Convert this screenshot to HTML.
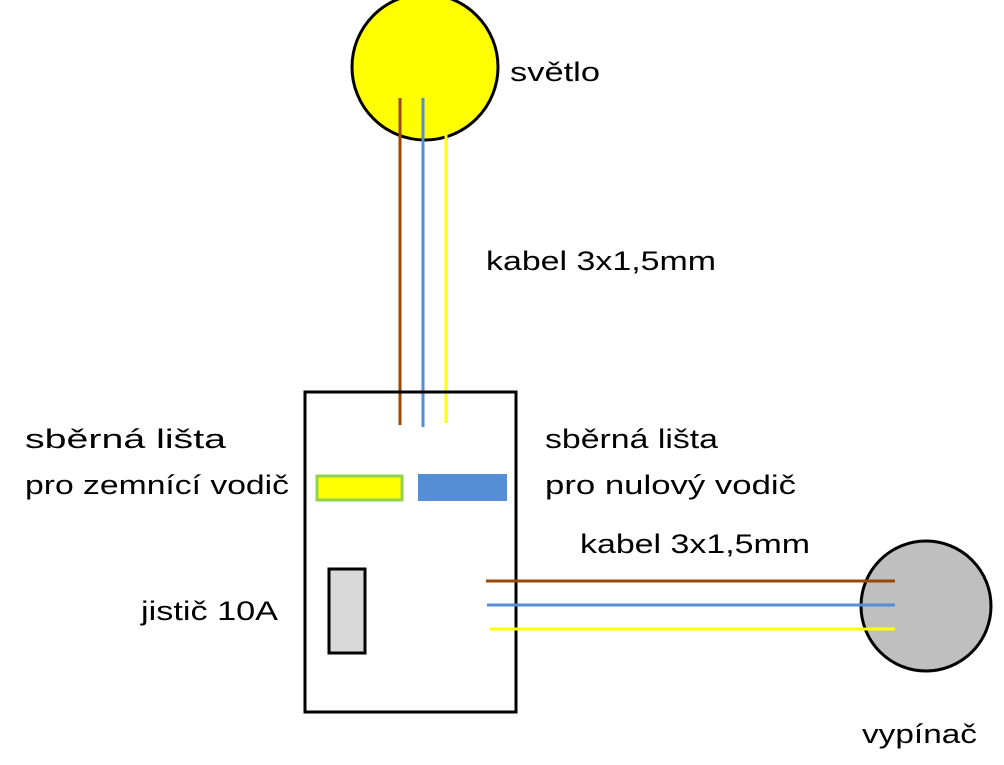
<!DOCTYPE html>
<html><head><meta charset="utf-8"><style>
body{margin:0;background:#fff}
svg text{font-family:"Liberation Sans",sans-serif;font-size:27px;fill:#000}
</style></head><body>
<svg width="1004" height="760" viewBox="0 0 1004 760" xmlns="http://www.w3.org/2000/svg">
<circle cx="425" cy="67" r="73" fill="#ffff00" stroke="#000" stroke-width="3"/>
<line x1="400" y1="98" x2="400" y2="425" stroke="#984807" stroke-width="3"/>
<line x1="423" y1="98" x2="423" y2="427" stroke="#558ed5" stroke-width="3"/>
<line x1="446" y1="120" x2="446" y2="423" stroke="#ffff00" stroke-width="3"/>
<rect x="305" y="392" width="211" height="320" fill="none" stroke="#000" stroke-width="3"/>
<rect x="317" y="476" width="85" height="24" fill="#ffff00" stroke="#92d050" stroke-width="3"/>
<rect x="418" y="474" width="89" height="27" fill="#558ed5"/>
<rect x="329" y="569" width="36" height="84" fill="#d9d9d9" stroke="#000" stroke-width="3"/>
<circle cx="926" cy="606" r="65" fill="#bfbfbf" stroke="#000" stroke-width="3"/>
<line x1="486" y1="581" x2="895" y2="581" stroke="#984807" stroke-width="3"/>
<line x1="487" y1="605" x2="895" y2="605" stroke="#558ed5" stroke-width="3"/>
<line x1="490" y1="629" x2="895" y2="629" stroke="#ffff00" stroke-width="3"/>
<text x="510" y="81" textLength="90" lengthAdjust="spacingAndGlyphs">světlo</text>
<text x="486" y="270" textLength="230" lengthAdjust="spacingAndGlyphs">kabel 3x1,5mm</text>
<text x="25" y="448" textLength="201" lengthAdjust="spacingAndGlyphs">sběrná lišta</text>
<text x="25" y="494" textLength="264" lengthAdjust="spacingAndGlyphs">pro zemnící vodič</text>
<text x="545" y="448" textLength="173" lengthAdjust="spacingAndGlyphs">sběrná lišta</text>
<text x="545" y="494" textLength="251" lengthAdjust="spacingAndGlyphs">pro nulový vodič</text>
<text x="580" y="553" textLength="230" lengthAdjust="spacingAndGlyphs">kabel 3x1,5mm</text>
<text x="141" y="620" textLength="137" lengthAdjust="spacingAndGlyphs">jistič 10A</text>
<text x="862" y="743" textLength="115" lengthAdjust="spacingAndGlyphs">vypínač</text>
</svg>
</body></html>
